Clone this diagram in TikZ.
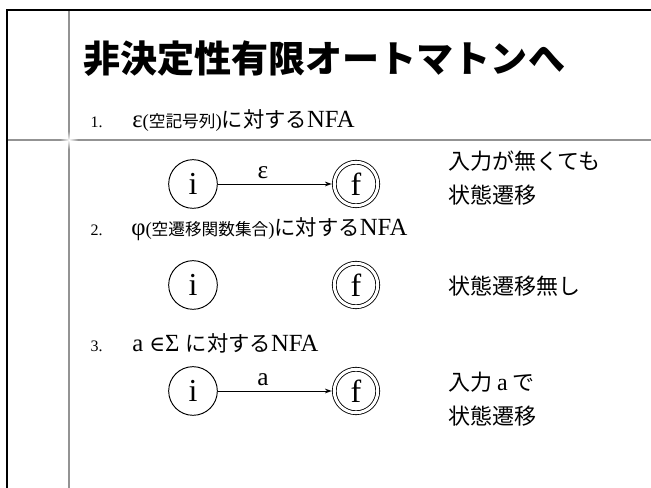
\documentclass[tikz,border=0pt]{standalone}
\usepackage{fontspec}
\setmainfont{Liberation Serif}
\newfontfamily\jp{Noto Sans CJK JP}
\newfontfamily\dvs{DejaVu Serif}
\usetikzlibrary{arrows.meta,fadings}
\tikzfading[name=glow, inner color=transparent!0, outer color=transparent!100]
\begin{document}
\begin{tikzpicture}[x=0.75pt,y=-0.75pt,
  frameblack/.style={line width=1.8pt,black},
  framegray/.style={line width=1.3pt,gray!85},
  st/.style={circle,draw,line width=0.7pt,minimum size=36.5pt,inner sep=0pt,font=\fontsize{24}{26}\selectfont},
  acc/.style={circle,draw,double,double distance=2.2pt,line width=0.65pt,minimum size=32.6pt,inner sep=0pt,font=\fontsize{24}{26}\selectfont},
  trans/.style={-{Stealth[length=5pt,width=3.6pt]},line width=0.65pt,shorten >=1.7pt},
  edgelab/.style={font=\fontsize{19}{21}\selectfont,above=0pt,pos=0.39},
  num/.style={anchor=base west,font=\fontsize{12}{14}\selectfont},
  item/.style={anchor=base west,inner sep=0pt,font=\fontsize{18.5}{21}\selectfont},
  note/.style={anchor=west,inner sep=0pt,font=\jp\fontsize{16.5}{19}\selectfont}
]
\newcommand\paren[1]{{\fontsize{14}{16}\selectfont(}{\jp\fontsize{12.5}{14}\selectfont #1}{\fontsize{14}{16}\selectfont)}}
\newcommand\taisuru{{\jp\fontsize{16}{19}\selectfont に対する}}
\useasboundingbox (0,0) rectangle (651,488);
% frame
\draw[framegray] (69,10) -- (69,488);
\draw[framegray] (7,140) -- (651,140);
\fill[white,path fading=glow] (69,140) circle (9);
\draw[frameblack] (7,488) -- (7,10) -- (651,10);
% title
\node[anchor=west,inner sep=0pt,font=\jp\bfseries\fontsize{27.8}{30}\selectfont] (title) at (83,59) {非決定性有限オートマトンへ};
% item 1
\node[num] (n1) at (86,128) {1.};
\node[item] (t1) at (132,128) {ε\paren{空記号列}\taisuru NFA};
\node[st] (i1) at (193,184) {i};
\node[acc] (f1) at (356,184) {f};
\draw[trans] (i1) -- node[edgelab] (e1) {ε} (f1);
\node[note] (r1a) at (448,161) {入力が無くても};
\node[note] (r1b) at (448,195) {状態遷移};
% item 2
\node[num] (n2) at (86,236) {2.};
\node[item] (t2) at (131,236) {φ\paren{空遷移関数集合}\taisuru NFA};
\node[st] (i2) at (193,285) {i};
\node[acc] (f2) at (356,285) {f};
\node[note] (r2) at (448,286) {状態遷移無し};
% item 3
\node[num] (n3) at (86,352) {3.};
\node[item] (t3) at (132,352) {a {\dvs\fontsize{16}{18}\selectfont ∈}Σ \taisuru NFA};
\node[st] (i3) at (193,391) {i};
\node[acc] (f3) at (356,391) {f};
\draw[trans] (i3) -- node[edgelab] (e3) {a} (f3);
\node[note] (r3a) at (448,382) {入力 {\rmfamily\fontsize{18}{20}\selectfont a} で};
\node[note] (r3b) at (448,416) {状態遷移};
\end{tikzpicture}
\end{document}
